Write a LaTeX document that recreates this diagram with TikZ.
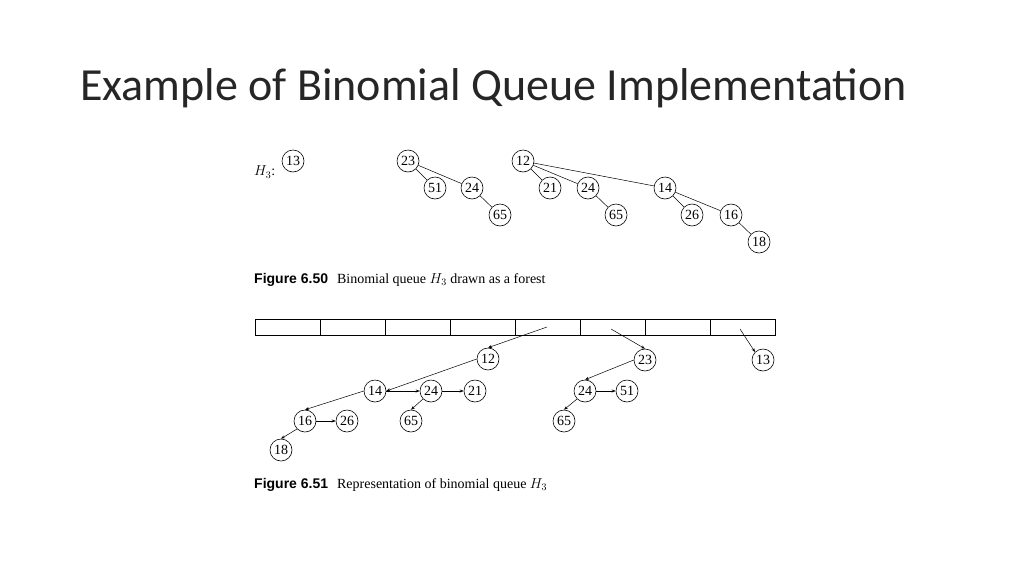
\documentclass[tikz,border=0pt]{standalone}
\usepackage{fontspec}
\setmainfont{Liberation Serif}
\newfontfamily\titlefont{Carlito}
\newfontfamily\capfont{Liberation Sans}
\usetikzlibrary{arrows.meta}
\begin{document}
\begin{tikzpicture}[x=1pt,y=-1pt,
  hn/.style={circle,draw,line width=0.6pt,minimum size=22pt,inner sep=0pt,font=\fontsize{14}{14}\selectfont},
  ln/.style={line width=0.5pt},
  ar/.style={line width=0.5pt,-{Stealth[length=4pt,width=3pt]}},
  cell/.style={draw,line width=0.6pt,minimum width=65pt,minimum height=16pt,inner sep=0pt,anchor=north west}]
\useasboundingbox (0,0) rectangle (1024,576);
\node[anchor=base west,inner sep=0pt,font=\titlefont\fontsize{46}{46}\selectfont,color=black!85] (title) at (80,100) {Example of Binomial Queue Implementation};
% top forest
\node[anchor=west,inner sep=0pt,font=\fontsize{14}{14}\selectfont] (h3) at (254,172) {$H_3$:};
\node[hn] (a13) at (293,161) {13};
\node[hn] (a23) at (408,161) {23};
\node[hn] (a51) at (435,188) {51};
\node[hn] (a24) at (472,188) {24};
\node[hn] (a65) at (500,215) {65};
\node[hn] (b12) at (523,161) {12};
\node[hn] (b21) at (550,188) {21};
\node[hn] (b24) at (588,188) {24};
\node[hn] (b65) at (616,215) {65};
\node[hn] (b14) at (665,188) {14};
\node[hn] (b26) at (692,215) {26};
\node[hn] (b16) at (731,215) {16};
\node[hn] (b18) at (759,242) {18};
\foreach \p/\c in {a23/a51,a23/a24,a24/a65,b12/b21,b12/b24,b12/b14,b24/b65,b14/b26,b14/b16,b16/b18}
  \draw[ln] (\p) -- (\c);
\node[anchor=base west,inner sep=0pt,font=\fontsize{14}{14}\selectfont] (cap1) at (254,283) {{\capfont\bfseries Figure 6.50}\hspace{9pt}Binomial queue $H_3$ drawn as a forest};
% array
\foreach \i in {0,...,7} \node[cell] (c\i) at (255+\i*65,319) {};
\coordinate (s4) at (547,327);
\coordinate (s5) at (611,329);
\coordinate (s7) at (740,329);
\node[hn] (d12) at (488,359) {12};
\node[hn] (d23) at (645,360) {23};
\node[hn] (d13) at (763,360) {13};
\node[hn] (d14) at (375,391) {14};
\node[hn] (d24) at (431,391) {24};
\node[hn] (d21) at (475,391) {21};
\node[hn] (e24) at (585,391) {24};
\node[hn] (e51) at (627,391) {51};
\node[hn] (d16) at (305,421) {16};
\node[hn] (d26) at (347,421) {26};
\node[hn] (d65) at (411,421) {65};
\node[hn] (e65) at (564,421) {65};
\node[hn] (d18) at (281,450) {18};
\draw[ar] (s4) -- (d12.north);
\draw[ar] (s5) -- (d23.north);
\draw[ar] (s7) -- (d13.north west);
\draw[ar] (d12.west) -- (d14.east);
\draw[ar] (d14.east) -- (d24.west);
\draw[ar] (d24.east) -- (d21.west);
\draw[ar] (d14.west) -- (d16.north);
\draw[ar] (d16.east) -- (d26.west);
\draw[ar] (d24.south west) -- (d65.north);
\draw[ar] (d16.south west) -- (d18.north);
\draw[ar] (d23.west) -- (e24.north);
\draw[ar] (e24.east) -- (e51.west);
\draw[ar] (e24.south west) -- (e65.north);
\node[anchor=base west,inner sep=0pt,font=\fontsize{14}{14}\selectfont] (cap2) at (254,488) {{\capfont\bfseries Figure 6.51}\hspace{9pt}Representation of binomial queue $H_3$};
\end{tikzpicture}
\end{document}
